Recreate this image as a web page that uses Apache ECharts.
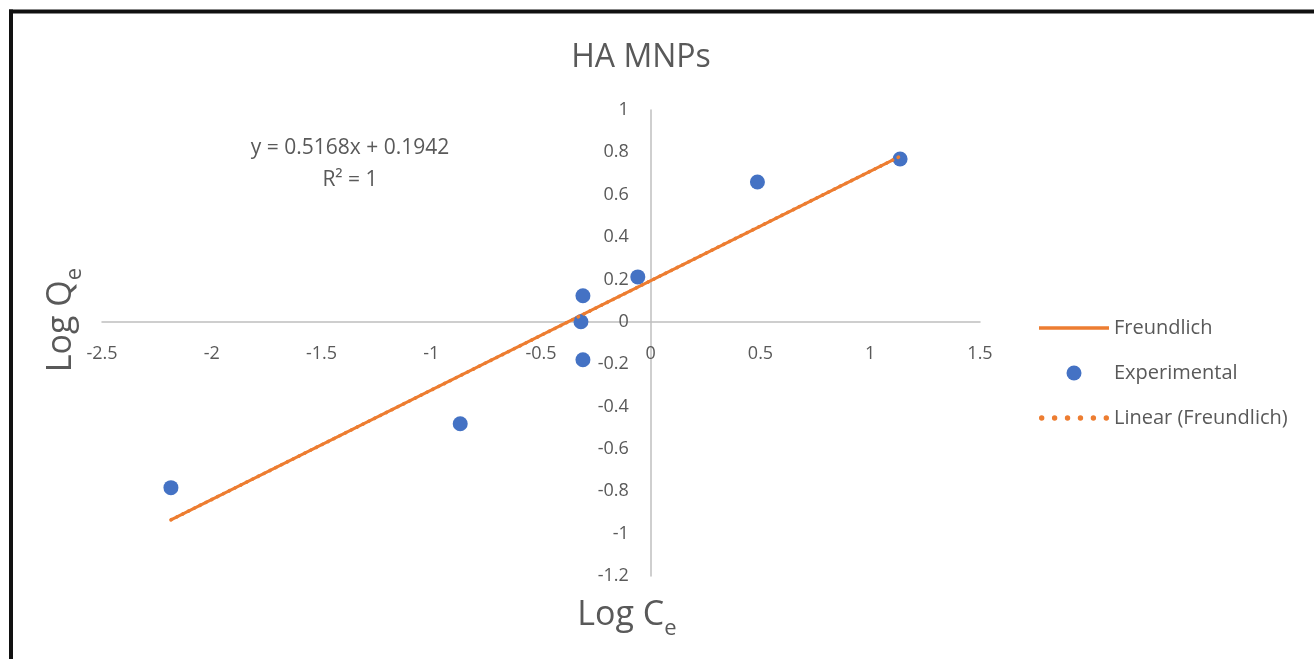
<!DOCTYPE html>
<html>
<head>
<meta charset="utf-8">
<script src="https://cdn.jsdelivr.net/npm/echarts@6/dist/echarts.min.js"></script>
<style>
html,body{margin:0;padding:0;background:#fff;}
#chart{width:1314px;height:659px;}
</style>
</head>
<body>
<div id="chart"></div>
<script>
// Experimental points [log Ce, log Qe]
const experimental = [
  [-2.186, -0.783],
  [-0.868, -0.481],
  [-0.318, 0.000],
  [-0.309, 0.123],
  [-0.309, -0.179],
  [-0.059, 0.212],
  [0.486, 0.660],
  [1.136, 0.769]
];
// Freundlich model values
const freundlich = [
  [-2.186, -0.935],
  [-0.868, -0.254],
  [-0.318, 0.030],
  [-0.309, 0.034],
  [-0.059, 0.164],
  [0.486, 0.445],
  [1.136, 0.781]
];
// Linear trendline endpoints
const trendline = [
  [-2.186, -0.935],
  [1.136, 0.781]
];
const titleText = 'HA MNPs';
const equationText = 'y = 0.5168x + 0.1942';
const r2Text = 'R² = 1';

const textColor = '#595959';
const font = 'Open Sans';
const orange = '#ED7D31';
const blue = '#4472C4';

// plot area
const gLeft = 102, gRight = 334, gTop = 110, gBottom = 83;
const W = 1314, H = 659;
const xMin = -2.5, xMax = 1.5, yMin = -1.2, yMax = 1;
// offsets so that axes cross at zero (derived from the axis ranges)
const plotW = W - gLeft - gRight, plotH = H - gTop - gBottom;
const yAxisOffset = -plotW * (0 - xMin) / (xMax - xMin);
const xAxisOffset = -plotH * (0 - yMin) / (yMax - yMin);

const nameRich = {
  a: {fontFamily: font, fontSize: 34, color: textColor, lineHeight: 44, verticalAlign: 'bottom'},
  b: {fontFamily: font, fontSize: 22, color: textColor, lineHeight: 44, verticalAlign: 'bottom', padding: [0, 0, -8, 0]}
};

const chart = echarts.init(document.getElementById('chart'));
chart.setOption({
  animation: false,
  backgroundColor: '#fff',
  textStyle: {fontFamily: font},
  title: {
    text: titleText,
    left: 636, top: 37, textAlign: 'center',
    textStyle: {fontFamily: font, fontSize: 32, fontWeight: 'normal', color: textColor}
  },
  grid: {left: gLeft, right: gRight, top: gTop, bottom: gBottom, containLabel: false, outerBoundsMode: 'none'},
  xAxis: {
    type: 'value', min: xMin, max: xMax, interval: 0.5,
    position: 'bottom', offset: xAxisOffset,
    name: '{a|Log C}{b|e}',
    nameLocation: 'middle', nameGap: -xAxisOffset + 12,
    nameTextStyle: {padding: [0, 0, 0, 172], rich: nameRich},
    axisLine: {onZero: false, lineStyle: {color: '#BFBFBF', width: 1.5}},
    axisTick: {show: false},
    splitLine: {show: false},
    axisLabel: {fontFamily: font, fontSize: 18, color: textColor, margin: 23}
  },
  yAxis: {
    type: 'value', min: yMin, max: yMax, interval: 0.2,
    position: 'left', offset: yAxisOffset,
    name: '{a|Log Q}{b|e}',
    nameLocation: 'middle', nameGap: -yAxisOffset + 24, nameRotate: 90,
    nameTextStyle: {padding: [0, 0, 0, 46], rich: nameRich},
    axisLine: {onZero: false, lineStyle: {color: '#BFBFBF', width: 1.5}},
    axisTick: {show: false},
    splitLine: {show: false},
    axisLabel: {fontFamily: font, fontSize: 18, color: textColor, margin: 22}
  },
  legend: {
    orient: 'vertical',
    left: 1034, top: 313,
    itemWidth: 70, itemHeight: 15, itemGap: 25,
    textStyle: {fontFamily: font, fontSize: 20, color: textColor},
    data: [
      {name: 'Freundlich', icon: 'path://M0,0H70V3.5H0Z'},
      {name: 'Experimental', icon: 'circle'},
      {name: 'Linear (Freundlich)', icon: 'path://M2.5,0a2.5,2.5 0 1,0 0.01,0Z M14.5,0a2.5,2.5 0 1,0 0.01,0Z M26.5,0a2.5,2.5 0 1,0 0.01,0Z M38.5,0a2.5,2.5 0 1,0 0.01,0Z M50.5,0a2.5,2.5 0 1,0 0.01,0Z M62.5,0a2.5,2.5 0 1,0 0.01,0Z'}
    ]
  },
  graphic: [
    {type: 'text', x: 350, y: 138, style: {text: equationText, align: 'center', fontFamily: font, fontSize: 21, fill: textColor}},
    {type: 'text', x: 350, y: 170, style: {text: r2Text, align: 'center', fontFamily: font, fontSize: 21, fill: textColor}},
    {type: 'line', shape: {x1: 9, y1: 11.5, x2: 1314, y2: 11.5}, style: {stroke: '#111', lineWidth: 4}},
    {type: 'line', shape: {x1: 11, y1: 9.5, x2: 11, y2: 659}, style: {stroke: '#111', lineWidth: 4}}
  ],
  series: [
    {
      name: 'Freundlich', type: 'line', data: freundlich,
      symbol: 'none', lineStyle: {color: orange, width: 3}, itemStyle: {color: orange}, z: 2
    },
    {
      name: 'Experimental', type: 'scatter', data: experimental,
      symbolSize: 15, itemStyle: {color: blue, opacity: 1}, z: 3
    },
    {
      name: 'Linear (Freundlich)', type: 'line', data: trendline,
      symbol: 'none', lineStyle: {color: orange, width: 3.5, type: [0.5, 6], cap: 'round'}, itemStyle: {color: orange}, z: 4
    }
  ]
});
</script>
</body>
</html>
